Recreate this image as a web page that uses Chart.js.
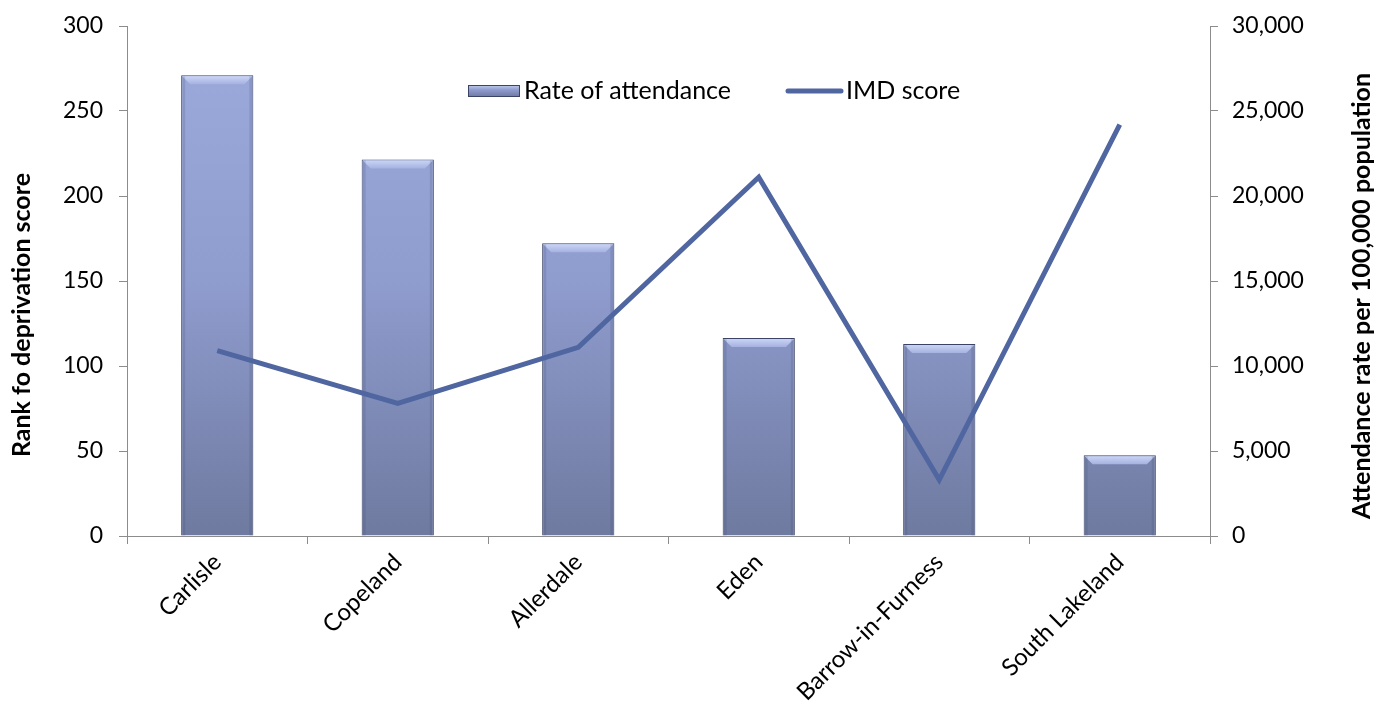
<!DOCTYPE html>
<html>
<head>
<meta charset="utf-8">
<script src="https://cdn.jsdelivr.net/npm/chart.js@4/dist/chart.umd.min.js"></script>
<style>
  html, body { margin: 0; padding: 0; background: #fff; }
  #wrap { width: 1386px; height: 715px; }
</style>
</head>
<body>
<div id="wrap"><canvas id="chart"></canvas></div>
<script>
const districts = ['Carlisle', 'Copeland', 'Allerdale', 'Eden', 'Barrow-in-Furness', 'South Lakeland'];
// attendance per 100,000 population (right axis)
const attendanceRate = [27100, 22150, 17220, 11650, 11290, 4750];
// IMD rank (left axis)
const imdRank = [109, 78, 111, 211, 33, 242];

const leftTitle = 'Rank fo deprivation score';
const rightTitle = 'Attendance rate per 100,000 population';

const FONT = "Lato, 'Liberation Sans', sans-serif";
const AXIS_GREY = '#8c8c8c';
const LINE_BLUE = '#4f66a1';
const LINE_W = 5;

function barGradient(ctx) {
  const area = ctx.chart.chartArea;
  if (!area) return '#8d9acb';
  const g = ctx.chart.ctx.createLinearGradient(0, area.top, 0, area.bottom);
  g.addColorStop(0, '#9dabdc');
  g.addColorStop(0.5, '#8f9cce');
  g.addColorStop(1, '#6f7aa0');
  return g;
}

// light bevel along the top edge of each bar
const bevel = {
  id: 'bevel',
  afterDatasetDraw(chart, args) {
    if (args.meta.type !== 'bar') return;
    const c = chart.ctx;
    args.meta.data.forEach(bar => {
      const left = bar.x - bar.width / 2 + 1;
      const right = bar.x + bar.width / 2 - 1;
      const top = bar.y + 1;
      const d = 8;
      c.save();
      const g = c.createLinearGradient(0, top, 0, top + d);
      g.addColorStop(0, '#c9d4f4');
      g.addColorStop(1, '#a5b2e0');
      c.fillStyle = g;
      c.beginPath();
      c.moveTo(left, top);
      c.lineTo(right, top);
      c.lineTo(right - d, top + d);
      c.lineTo(left + d, top + d);
      c.closePath();
      c.fill();
      c.fillStyle = 'rgba(60,70,110,0.18)';
      c.fillRect(left, top, 3, bar.base - top);
      c.fillRect(right - 3, top, 3, bar.base - top);
      c.restore();
    });
  }
};

// legend inside the plot area plus both axis titles reading upwards
const extras = {
  id: 'extras',
  afterDraw(chart) {
    const c = chart.ctx;
    const area = chart.chartArea;
    c.save();
    c.font = `25px ${FONT}`;
    c.fillStyle = '#000';
    c.textBaseline = 'middle';
    const y = area.top + 65;
    let x = area.left + 341;
    // bar swatch
    const g = c.createLinearGradient(0, y - 6, 0, y + 6);
    g.addColorStop(0, '#c3cdef');
    g.addColorStop(0.4, '#8f9cce');
    g.addColorStop(1, '#6d789f');
    c.fillStyle = g;
    c.fillRect(x, y - 6, 52, 12);
    c.strokeStyle = '#3b4466';
    c.lineWidth = 1;
    c.strokeRect(x + 0.5, y - 5.5, 51, 11);
    x += 56;
    c.fillStyle = '#000';
    c.fillText(datasetLabel(chart, 0), x, y);
    x += c.measureText(datasetLabel(chart, 0)).width + 57;
    // line swatch
    c.strokeStyle = LINE_BLUE;
    c.lineWidth = LINE_W;
    c.lineCap = 'round';
    c.beginPath();
    c.moveTo(x, y);
    c.lineTo(x + 53, y);
    c.stroke();
    x += 58;
    c.fillText(datasetLabel(chart, 1), x, y);

    c.font = `bold 25px ${FONT}`;
    c.textAlign = 'center';
    drawUp(c, leftTitle, 22, 315);
    drawUp(c, rightTitle, 1362, 296);
    c.restore();
  }
};

function datasetLabel(chart, i) {
  return chart.data.datasets[i].label;
}

function drawUp(c, text, x, y) {
  c.save();
  c.translate(x, y);
  c.rotate(-Math.PI / 2);
  c.fillText(text, 0, 0);
  c.restore();
}

// fixed axis box sizes, no extra label overhang
function fixWidth(w) {
  return scale => {
    scale.width = w;
    scale.paddingTop = 0;
    scale.paddingBottom = 0;
  };
}

const ctx = document.getElementById('chart');
new Chart(ctx, {
  type: 'bar',
  data: {
    labels: districts,
    datasets: [
      {
        type: 'bar',
        label: 'Rate of attendance',
        data: attendanceRate,
        yAxisID: 'y1',
        backgroundColor: barGradient,
        borderColor: '#3b4466',
        borderWidth: 1,
        categoryPercentage: 1,
        barPercentage: 0.4,
        order: 2
      },
      {
        type: 'line',
        label: 'IMD score',
        data: imdRank,
        yAxisID: 'y',
        borderColor: LINE_BLUE,
        backgroundColor: LINE_BLUE,
        borderWidth: LINE_W,
        pointRadius: 0,
        tension: 0,
        order: 1
      }
    ]
  },
  plugins: [bevel, extras],
  options: {
    responsive: true,
    maintainAspectRatio: false,
    animation: false,
    layout: { padding: { top: 26, left: 0, right: 0, bottom: 0 } },
    plugins: {
      tooltip: { enabled: false },
      legend: { display: false }
    },
    scales: {
      x: {
        offset: true,
        grid: { offset: true, drawOnChartArea: false, tickLength: 8, color: AXIS_GREY },
        border: { color: AXIS_GREY },
        ticks: {
          color: '#000',
          font: { family: FONT, size: 24 },
          maxRotation: 45,
          minRotation: 45,
          padding: 4
        },
        afterFit(scale) { scale.height = 179; }
      },
      y: {
        position: 'left',
        min: 0,
        max: 300,
        grid: { drawOnChartArea: false, tickLength: 8, color: AXIS_GREY },
        border: { color: AXIS_GREY },
        ticks: {
          stepSize: 50,
          color: '#000',
          font: { family: FONT, size: 23 },
          padding: 16
        },
        afterFit: fixWidth(127)
      },
      y1: {
        position: 'right',
        min: 0,
        max: 30000,
        grid: { drawOnChartArea: false, tickLength: 8, color: AXIS_GREY },
        border: { color: AXIS_GREY },
        ticks: {
          stepSize: 5000,
          color: '#000',
          font: { family: FONT, size: 23 },
          padding: 14,
          callback: v => v.toLocaleString('en-GB')
        },
        afterFit: fixWidth(176)
      }
    }
  }
});
</script>
</body>
</html>
